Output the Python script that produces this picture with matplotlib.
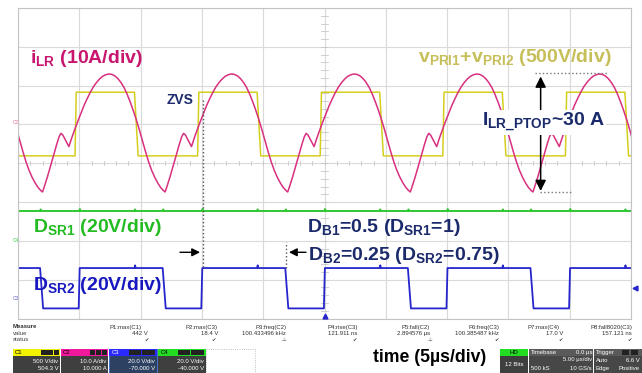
import numpy as np
import matplotlib
matplotlib.use('Agg')
from matplotlib import pyplot as plt
from matplotlib.patches import Rectangle

plt.rcParams['font.family'] = ['Liberation Sans', 'DejaVu Sans']
plt.rcParams['mathtext.default'] = 'regular'

# screen: 10 div x 5 us, 8 div vertical; levels are in divisions from the bottom
period_us = 10.0
first_edge_us = 4.65   # first rising edge of vPRI1+vPRI2

# one switching period, phase measured from the vPRI rising edge (us)
vpri_phase = [0.0, 0.1, 4.85, 5.15, 10.0]
vpri_div = [4.19, 5.83, 5.83, 4.19, 4.19]

ilr_phase = [0.0, 0.25, 0.5, 0.75, 1.0, 1.25, 1.5, 1.75, 2.0, 2.25, 2.5, 2.75,
             3.0, 3.25, 3.5, 3.75, 4.0, 4.25, 4.5, 4.75, 5.0, 5.25, 5.5, 5.75,
             6.0, 6.25, 6.5, 6.75, 7.0, 7.2, 7.35, 7.5, 7.75, 8.0, 8.25, 8.5,
             8.7, 8.85, 9.0, 9.25, 9.5, 9.75]
ilr_div = [4.89, 5.10, 5.30, 5.50, 5.67, 5.83, 5.97, 6.08, 6.17, 6.24, 6.28, 6.30,
           6.29, 6.25, 6.18, 6.08, 5.95, 5.78, 5.58, 5.36, 5.12, 4.86, 4.58, 4.30,
           4.04, 3.82, 3.64, 3.49, 3.37, 3.30, 3.26, 3.40, 3.65, 3.92, 4.20, 4.48,
           4.68, 4.77, 4.73, 4.58, 4.43, 4.67]

dsr1_phase = [0.0, 0.35, 0.4, 0.45, 4.85, 4.9, 4.95, 7.15, 7.2, 7.25]
dsr1_div = [2.77, 2.77, 2.82, 2.77, 2.77, 2.81, 2.77, 2.77, 2.81, 2.77]

dsr2_phase = [0.0, 0.30, 0.38, 4.85, 4.9, 4.95, 7.15, 7.40]
dsr2_div = [0.26, 0.26, 1.30, 1.30, 1.37, 1.30, 1.30, 0.26]

# scope status panel
measure_names = ['P1:max(C1)', 'P2:max(C3)', 'P3:freq(C2)', 'P4:rise(C3)',
                 'P5:fall(C2)', 'P6:freq(C3)', 'P7:max(C4)', 'P8:fall8020(C3)']
measure_values = ['442 V', '18.4 V', '100.433496 kHz', '121.911 ns',
                  '2.894576 µs', '100.385487 kHz', '17.0 V', '157.121 ns']
measure_status = ['✔', '✔', '⚠', '✔', '⚠', '✔', '✔', '✔']
chan_names = ['C1', 'C2', 'C3', 'C4']
chan_colors = ['#f2f200', '#f0189c', '#2a2aff', '#22dd22']
chan_scale = ['500 V/div', '10.0 A/div', '20.0 V/div', '20.0 V/div']
chan_offset = ['504.3 V', '10.000 A', '-70.000 V', '-40.000 V']


def repeat(phase, level):
    t = []
    v = []
    for k in range(-1, 5):
        for p, y in zip(phase, level):
            t.append(first_edge_us + k * period_us + p)
            v.append(y)
    return t, v


fig = plt.figure(figsize=(6.42, 3.73), dpi=100)
ax = fig.add_axes([18 / 642, (373 - 318.5) / 373, 613 / 642, 310.5 / 373])
ax.set_xlim(0, 50)
ax.set_ylim(0, 8)
ax.set_xticks(np.arange(0, 51, 5))
ax.set_yticks(np.arange(0, 9, 1))
ax.grid(True, color='#dadada', lw=0.8)
ax.tick_params(length=0, labelbottom=False, labelleft=False)
for s in ax.spines.values():
    s.set_color('#c4c4c4')
    s.set_linewidth(0.8)

# graticule minor ticks on the centre lines
for x in np.arange(0, 50.01, 1.0):
    ax.plot([x, x], [3.95, 4.05], color='#c8c8c8', lw=0.6)
for y in np.arange(0, 8.01, 0.2):
    ax.plot([24.72, 25.28], [y, y], color='#c8c8c8', lw=0.6)

t, v = repeat(vpri_phase, vpri_div)
ax.plot(t, v, color='#d6ce1e', lw=1.1)
t, v = repeat(ilr_phase, ilr_div)
ax.plot(t, v, color='#d8307f', lw=1.1)
t, v = repeat(dsr1_phase, dsr1_div)
ax.plot(t, v, color='#30c830', lw=1.4)
t, v = repeat(dsr2_phase, dsr2_div)
ax.plot(t, v, color='#2626cc', lw=1.3)

# labels
big = dict(fontsize=14, fontweight='bold', va='baseline')
navy = '#1b2a6b'
ax.text(0.98, 6.58, r'i$_{LR}$ (10A/div)', color='#c8156e', **big)
ax.text(32.63, 6.61, r'v$_{PRI1}$+v$_{PRI2}$ (500V/div)', color='#c6be58', **big)
ax.text(1.22, 2.24, r'D$_{SR1}$ (20V/div)', color='#22bb22', **big)
ax.text(1.22, 0.73, r'D$_{SR2}$ (20V/div)', color='#1818c0', **big)
ax.text(23.57, 2.23, r'D$_{B1}$=0.5 (D$_{SR1}$=1)', color=navy, **big)
ax.text(23.65, 1.51, r'D$_{B2}$=0.25 (D$_{SR2}$=0.75)', color=navy, **big)
ax.text(37.87, 4.94, r'I$_{LR\_PTOP}$~30 A', color=navy, zorder=5,
        bbox=dict(facecolor='white', edgecolor='none', pad=0.5), **big)
ax.text(12.15, 5.52, 'ZVS', color=navy, fontsize=10, fontweight='bold', va='baseline')

# ZVS and duty markers
ax.plot([15.05, 15.05], [1.33, 5.68], color='#555555', ls=':', lw=1.0)
ax.plot([21.86, 21.86], [1.30, 1.98], color='#555555', ls=':', lw=1.0)
ax.annotate('', xy=(14.85, 1.706), xytext=(13.21, 1.706),
            arrowprops=dict(arrowstyle='-|>', color='black', lw=1.0, mutation_scale=12, shrinkA=0, shrinkB=0))
ax.annotate('', xy=(22.10, 1.706), xytext=(23.49, 1.706),
            arrowprops=dict(arrowstyle='-|>', color='black', lw=1.0, mutation_scale=12, shrinkA=0, shrinkB=0))

# peak-to-peak marker
ax.plot([42.17, 48.04], [6.333, 6.333], color='#777777', ls=':', lw=1.0)
ax.plot([42.58, 45.19], [3.26, 3.26], color='#777777', ls=':', lw=1.0)
ax.annotate('', xy=(42.63, 6.235), xytext=(42.63, 5.37),
            arrowprops=dict(arrowstyle='-|>', color='black', lw=1.1, mutation_scale=16, shrinkA=0, shrinkB=0))
ax.annotate('', xy=(42.63, 3.285), xytext=(42.63, 4.81),
            arrowprops=dict(arrowstyle='-|>', color='black', lw=1.1, mutation_scale=16, shrinkA=0, shrinkB=0))

# scope UI in pixel coordinates
ui = fig.add_axes([0, 0, 1, 1])
ui.set_xlim(0, 642)
ui.set_ylim(373, 0)
ui.axis('off')


def box(x, y, w, h, fc, ec='none', lw=0.0, ls='-'):
    ui.add_patch(Rectangle((x, y), w, h, facecolor=fc, edgecolor=ec, lw=lw, ls=ls))


small = dict(fontsize=4.3, va='center')
ui.text(13, 122, 'C2', color='#f070a0', fontsize=3.5, va='center')
ui.text(13, 240.5, 'C4', color='#40c840', fontsize=3.5, va='center')
ui.text(13, 298, 'C3', color='#6060d0', fontsize=3.5, va='center')
ui.plot([635], [287.5], marker='<', color='#2626cc', ms=3.5)
ui.plot([324.5], [316], marker='^', color='#2626cc', ms=3.5)

ui.text(12.7, 327, 'Measure', color='#303030', fontweight='bold', **small)
ui.text(12.7, 333.7, 'value', color='#404040', **small)
ui.text(12.7, 339.5, 'status', color='#404040', **small)
name_right = [142, 218, 287, 357.5, 430, 499, 560, 632]
value_right = [148, 218, 286, 357, 430, 499.3, 563.3, 631.7]
status_x = [146.5, 214, 284, 355, 430, 497, 561, 630]
for i in range(len(measure_names)):
    ui.text(name_right[i], 327, measure_names[i], color='#303030', ha='right', **small)
    ui.text(value_right[i], 333.7, measure_values[i], color='#303030', ha='right', **small)
    ui.text(status_x[i], 339.5, measure_status[i], color='#404040', ha='center', fontsize=3.8, va='center')

chan_x = [12.7, 61, 109.3, 158.3]
for i in range(4):
    x0 = chan_x[i]
    body = '#2d4262' if i == 2 else '#3f3f3f'
    box(x0, 349, 47.3, 24, body, ec='#3a6ad0' if i == 2 else 'none', lw=0.6)
    box(x0, 349, 47.3, 6.5, chan_colors[i])
    ui.text(x0 + 2, 352.3, chan_names[i], color='white' if i == 2 else 'black', fontsize=4.3, va='center')
    if i < 2:
        for j in range(3):
            box(x0 + 28.5 + j * 6.2, 350, 5.3, 4.5, '#222222')
    else:
        box(x0 + 20, 350, 11.5, 4.5, '#222222')
        box(x0 + 32.5, 350, 13.5, 4.5, '#222222')
    ui.text(x0 + 45.5, 361.5, chan_scale[i], color='white', ha='right', **small)
    ui.text(x0 + 45.5, 368.5, chan_offset[i], color='white', ha='right', **small)
box(206, 349, 49, 23.5, 'none', ec='#aaaaaa', lw=0.6, ls=':')

ui.text(373, 362.3, 'time (5µs/div)', color='black', fontsize=12.7, fontweight='bold', va='baseline')

box(500, 349, 28.3, 24, '#3f3f3f')
box(500, 349, 28.3, 6.5, '#22dd22')
ui.text(514, 352.3, 'HD', color='black', ha='center', **small)
ui.text(514, 364, '12 Bits', color='white', ha='center', **small)
box(529.3, 349, 64, 24, '#474747')
box(529.3, 349, 64, 6.5, '#5a5a5a')
ui.text(531, 352.3, 'Timebase', color='white', **small)
ui.text(592, 352.3, '0.0 µs', color='white', ha='right', **small)
ui.text(592, 360, '5.00 µs/div', color='white', ha='right', **small)
ui.text(531, 368.7, '500 kS', color='white', **small)
ui.text(592, 368.7, '10 GS/s', color='white', ha='right', **small)
box(594.3, 349, 48, 24, '#474747')
box(594.3, 349, 48, 6.5, '#5a5a5a')
ui.text(596, 352.3, 'Trigger', color='white', **small)
box(622, 350, 7, 4.5, '#222222')
box(631, 350, 7, 4.5, '#222222')
ui.text(596, 360, 'Auto', color='white', **small)
ui.text(640, 360, '6.6 V', color='white', ha='right', **small)
ui.text(596, 368.7, 'Edge', color='white', **small)
ui.text(640, 368.7, 'Positive', color='white', ha='right', **small)

fig.savefig('out.png', dpi=100)
